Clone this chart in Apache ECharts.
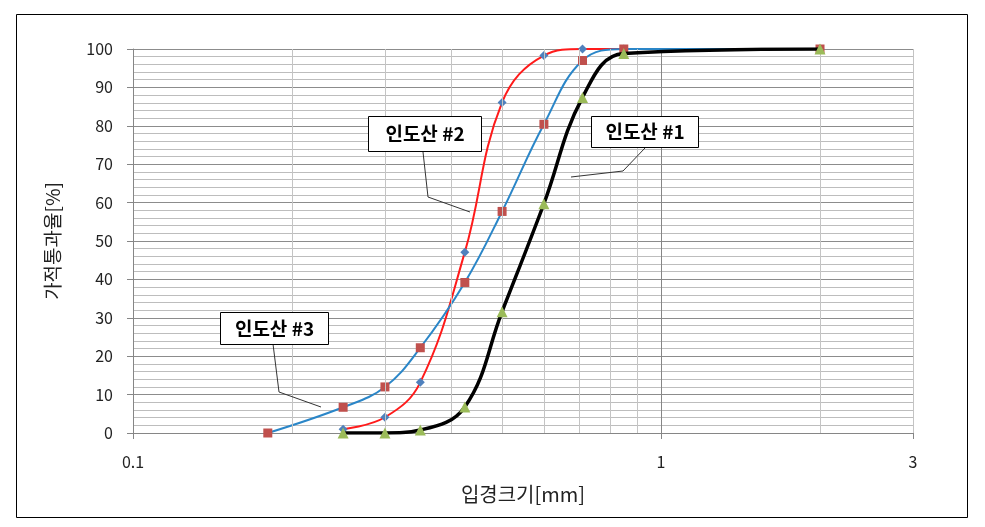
<!DOCTYPE html>
<html>
<head>
<meta charset="utf-8">
<script src="https://cdn.jsdelivr.net/npm/echarts@6/dist/echarts.min.js"></script>
<style>html,body{margin:0;padding:0;background:#fff;}#c{width:985px;height:527px;}</style>
</head>
<body>
<div id="c"></div>
<script>
// particle sizes [mm]
var sizes = [0.18, 0.25, 0.3, 0.35, 0.425, 0.5, 0.6, 0.71, 0.85, 2.0];
// passing percentage [%]; null = not measured
var india1 = [null, 0, 0, 0.8, 6.8, 31.6, 59.7, 87.4, 98.8, 100];
var india2 = [null, 1, 4.1, 13.2, 47.1, 86.1, 98.3, 100, 100, 100];
var india3 = [0, 6.7, 12, 22.2, 39.2, 57.7, 80.4, 97, 100, 100];
var minorX = [0.2, 0.3, 0.4, 0.5, 0.6, 0.7, 0.8, 0.9, 2];
var xTickLabels = ['0.1', '1', '3'];
var names = ['인도산 #1', '인도산 #2', '인도산 #3'];

function pairs(vals) {
  var out = [];
  for (var i = 0; i < sizes.length; i++) if (vals[i] !== null) out.push([sizes[i], vals[i]]);
  return out;
}

var FONT = '"Noto Sans CJK KR", "Noto Sans", sans-serif';
var chart = echarts.init(document.getElementById('c'), null, {renderer: 'canvas'});

function callout(text, bx, by, bw, bh, pts) {
  return [
    {type: 'polyline', z: 50, silent: true, shape: {points: pts}, style: {stroke: '#333', lineWidth: 1, fill: null}},
    {type: 'rect', z: 51, silent: true, shape: {x: bx, y: by, width: bw, height: bh},
      style: {fill: '#fff', stroke: '#000', lineWidth: 1}},
    {type: 'text', z: 52, silent: true, x: bx + bw / 2, y: by + bh / 2,
      style: {text: text, font: 'bold 19px ' + FONT, fill: '#000', align: 'center', verticalAlign: 'middle'}}
  ];
}

var graphics = [
  {type: 'rect', z: 0, silent: true, shape: {x: 16.5, y: 14.5, width: 951, height: 503},
    style: {fill: null, stroke: '#000', lineWidth: 1}}
].concat(
  callout(names[1], 368.5, 116.5, 113, 35, [[423, 152], [428, 197], [470, 212]]),
  callout(names[0], 591.5, 116.5, 107, 31, [[645, 148], [623, 171], [571, 177]]),
  callout(names[2], 220.5, 312.5, 108, 32, [[273, 344], [279, 392], [321, 407]])
);

var option = {
  animation: false,
  backgroundColor: '#fff',
  grid: {left: 133, right: 72, top: 49, bottom: 94, containLabel: false, outerBoundsMode: 'none'},
  xAxis: {
    type: 'log', logBase: 10, min: 0.1, max: 3,
    name: '입경크기[mm]', nameLocation: 'middle', nameGap: 51,
    nameTextStyle: {fontFamily: FONT, fontSize: 20, color: '#222'},
    axisLine: {show: true, lineStyle: {color: '#868686', width: 1}},
    axisTick: {show: true, length: 6, lineStyle: {color: '#868686'}},
    axisLabel: {
      fontFamily: FONT, fontSize: 16, color: '#222', margin: 21,
      showMinLabel: true, showMaxLabel: true,
      formatter: function (v) {
        var r = Math.round(v * 1000) / 1000;
        var s = String(r);
        return xTickLabels.indexOf(s) >= 0 ? s : '';
      }
    },
    splitLine: {show: true, lineStyle: {color: ['#868686', '#868686', '#c4c4c4'], width: 1}}
  },
  yAxis: {
    type: 'value', min: 0, max: 100, interval: 10,
    name: '가적통과율[%]', nameLocation: 'middle', nameGap: 71, nameRotate: 90,
    nameTextStyle: {fontFamily: FONT, fontSize: 19, color: '#222'},
    axisLine: {show: true, lineStyle: {color: '#868686', width: 1}},
    axisTick: {show: true, length: 6, lineStyle: {color: '#868686'}},
    axisLabel: {fontFamily: FONT, fontSize: 16, color: '#222', margin: 20},
    splitLine: {show: true, lineStyle: {color: '#8c8c8c', width: 1}},
    minorTick: {show: false, splitNumber: 5},
    minorSplitLine: {show: true, lineStyle: {color: '#bdbdbd', width: 1}}
  },
  graphic: graphics,
  series: [
    {
      name: 'minorGrid', type: 'line', data: [], silent: true, z: 1,
      markLine: {
        silent: true, symbol: ['none', 'none'], animation: false,
        label: {show: false},
        lineStyle: {color: '#c4c4c4', type: 'solid', width: 1},
        data: minorX.map(function (v) { return {xAxis: v}; })
      }
    },
    {
      name: names[1], type: 'line', data: pairs(india2), z: 3,
      smooth: 0.4,
      symbol: 'diamond', symbolSize: 9,
      itemStyle: {color: '#4f81bd'},
      lineStyle: {color: '#ff1a1a', width: 2}
    },
    {
      name: names[2], type: 'line', data: pairs(india3), z: 4,
      smooth: 0.4,
      symbol: 'rect', symbolSize: 9,
      itemStyle: {color: '#c0504d'},
      lineStyle: {color: '#2a86c8', width: 2}
    },
    {
      name: names[0], type: 'line', data: pairs(india1), z: 5,
      smooth: 0.4,
      symbol: 'triangle', symbolSize: 11,
      itemStyle: {color: '#9bbb59'},
      lineStyle: {color: '#000', width: 3.5}
    }
  ]
};
chart.setOption(option);
</script>
</body>
</html>
